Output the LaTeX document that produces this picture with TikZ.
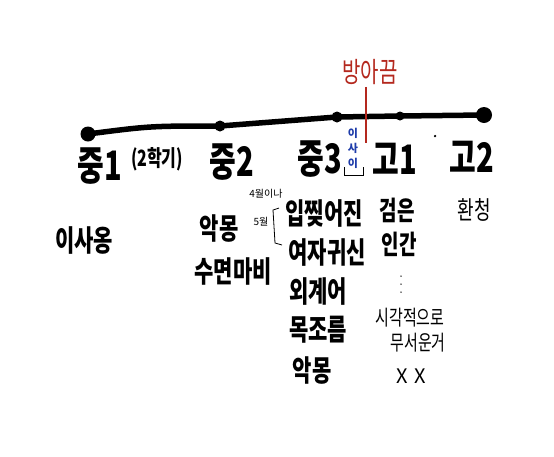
\documentclass[tikz,border=0pt]{standalone}
\usepackage{fontspec}
\setmainfont{Noto Sans CJK KR}
\definecolor{penred}{RGB}{180,40,30}
\definecolor{penblue}{RGB}{30,60,170}
\newcommand{\tallt}[1]{\scalebox{1}[1.4]{#1}}
\begin{document}
\begin{tikzpicture}[x=1pt,y=-1pt,
  big/.style={font=\fontsize{29}{30}\selectfont\bfseries,inner sep=0pt},
  mid/.style={font=\fontsize{21}{24}\selectfont\bfseries,inner sep=0pt},
  thin/.style={font=\fontsize{19}{20}\selectfont\bfseries,inner sep=0pt},
  hand/.style={font=\fontsize{15}{16}\selectfont,inner sep=0pt},
  tiny/.style={font=\fontsize{10}{10}\selectfont,inner sep=0pt},
  dotn/.style={circle,fill=black,inner sep=0pt}]
\useasboundingbox (0,0) rectangle (554,456);
\fill[white] (0,0) rectangle (554,456);
% timeline
\node[dotn,minimum size=15pt] (d1) at (88,134) {};
\node[dotn,minimum size=11pt] (d2) at (220,126) {};
\node[dotn,minimum size=11pt] (d3) at (337,117) {};
\node[dotn,minimum size=9pt] (d4) at (400,116) {};
\node[dotn,minimum size=16pt] (d5) at (484,115) {};
\draw[line width=5.5pt,line cap=round] (d1.center) .. controls (150,126) .. (d2.center) -- (d3.center) -- (d4.center) -- (d5.center);
\node[dotn,minimum size=2.5pt] (sd) at (435,136) {};
% red label
\node[font=\fontsize{20}{22}\selectfont,text=penred,inner sep=0pt] (bang) at (370,72) {\tallt{방아끔}};
\coordinate (rl) at (366,143);
\draw[penred,line width=1.3pt] (bang.south -| rl) ++(0,2) -- (rl);
% headers
\node[big] (j1) at (100,166) {\tallt{중1}};
\node[font=\fontsize{16}{16}\selectfont\bfseries,inner sep=0pt] (hak) at (157,159) {\tallt{(2학기)}};
\node[big] (j2) at (232,162) {\tallt{중2}};
\node[big] (j3) at (320,159) {\tallt{중3}};
\node[font=\fontsize{11}{15}\selectfont\bfseries,text=penblue,inner sep=0pt,align=center] (isai) at (353,148) {이\\사\\이};
\draw[line width=1pt] (344,167) -- (344,175) -- (363,175) -- (363,167);
\node[big] (g1) at (395,159) {\tallt{고1}};
\node[big] (g2) at (472,157) {\tallt{고2}};
% items
\node[mid] (a1) at (84,240) {\tallt{이사옹}};
\node[mid] (b1) at (219,229) {\tallt{악몽}};
\node[mid] (b2) at (233,271) {\tallt{수면마비}};
\node[tiny] (m1) at (266,194) {4월이나};
\node[tiny] (m2) at (261,222) {5월};
\draw[line width=0.8pt] (279,208) -- (273,210) -- (275,243) -- (282,245);
\node[mid] (c1) at (324,213) {\tallt{입찢어진}};
\node[mid] (c2) at (327,252) {\tallt{여자귀신}};
\node[mid] (c3) at (318,291) {\tallt{외계어}};
\node[mid] (c4) at (318,330) {\tallt{목조름}};
\node[mid] (c5) at (312,371) {\tallt{악몽}};
\node[thin] (e1) at (397,210) {\tallt{검은}};
\node[thin] (e2) at (399,244) {\tallt{인간}};
\node[dotn,minimum size=1.5pt] (v1) at (401,276) {};
\node[dotn,minimum size=1.5pt] (v2) at (401,284) {};
\node[dotn,minimum size=1.5pt] (v3) at (401,292) {};
\node[hand] (e3) at (410,318) {\tallt{시각적으로}};
\node[hand] (e4) at (418,343) {\tallt{무서운거}};
\node[font=\fontsize{20}{20}\selectfont,inner sep=0pt] (e5) at (411,376) {X\,\,X};
\node[font=\fontsize{18}{18}\selectfont,inner sep=0pt] (f1) at (474,210) {\tallt{환청}};
\end{tikzpicture}
\end{document}
